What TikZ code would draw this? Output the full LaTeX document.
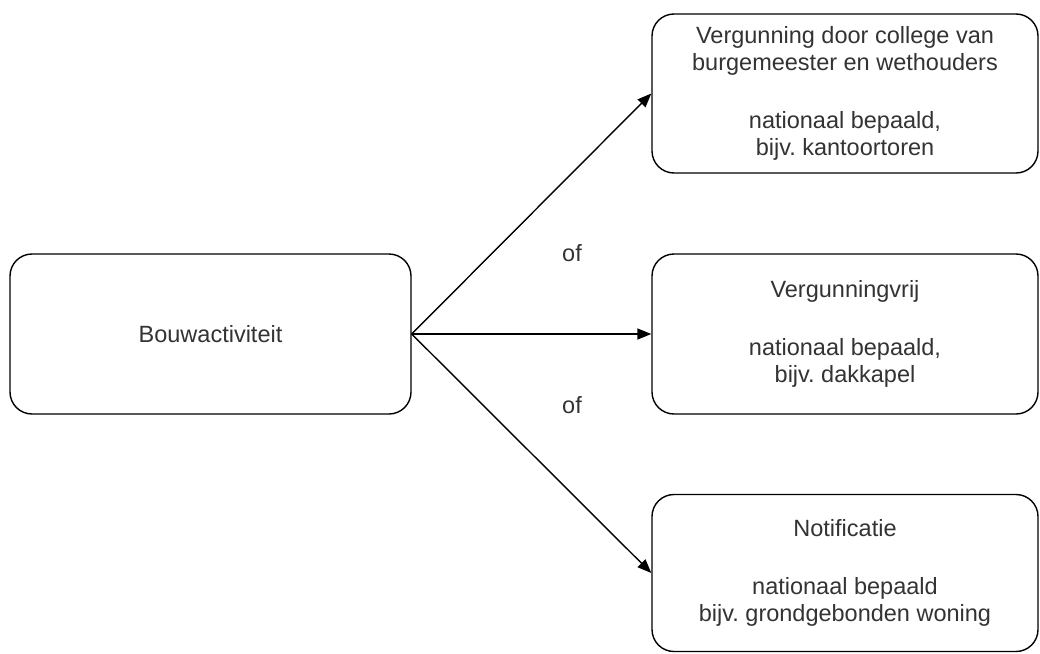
\documentclass[tikz,border=0pt]{standalone}
\usepackage{fontspec}
\setmainfont{Liberation Sans}
\usetikzlibrary{arrows.meta}
\definecolor{txt}{HTML}{333333}
\frenchspacing
\tikzset{
  x=1pt, y=-1pt,
  box/.style={draw=black, line width=1.4pt, rounded corners=22pt, fill=white,
    align=center, inner sep=0pt, text=txt,
    font=\fontsize{23.5}{27}\selectfont},
  conn/.style={draw=black, line width=1.4pt, -{Triangle[length=14pt,width=11pt]}},
  lbl/.style={text=txt, font=\fontsize{23.5}{27}\selectfont, inner sep=0pt}
}
\begin{document}
\begin{tikzpicture}
\useasboundingbox (0,0) rectangle (1040,653);
\node[box, minimum width=401pt, minimum height=160pt] (L) at (210.5,334) {Bouwactiviteit};
\node[box, minimum width=386pt, minimum height=159pt] (T) at (845,93.5)
  {Vergunning door college van\\burgemeester en wethouders\\[31pt]nationaal bepaald,\\bijv. kantoortoren};
\node[box, minimum width=386pt, minimum height=160pt] (M) at (845,334)
  {Vergunningvrij\\[31pt]nationaal bepaald,\\bijv. dakkapel};
\node[box, minimum width=386pt, minimum height=157pt] (B) at (845,573)
  {Notificatie\\[31pt]nationaal bepaald\\bijv. grondgebonden woning};
\draw[conn] (L.east) -- (T.west);
\draw[conn] (L.east) -- (M.west);
\draw[conn] (L.east) -- (B.west);
\node[lbl] (of1) at (572,253) {of};
\node[lbl] (of2) at (572,405) {of};
\end{tikzpicture}
\end{document}
